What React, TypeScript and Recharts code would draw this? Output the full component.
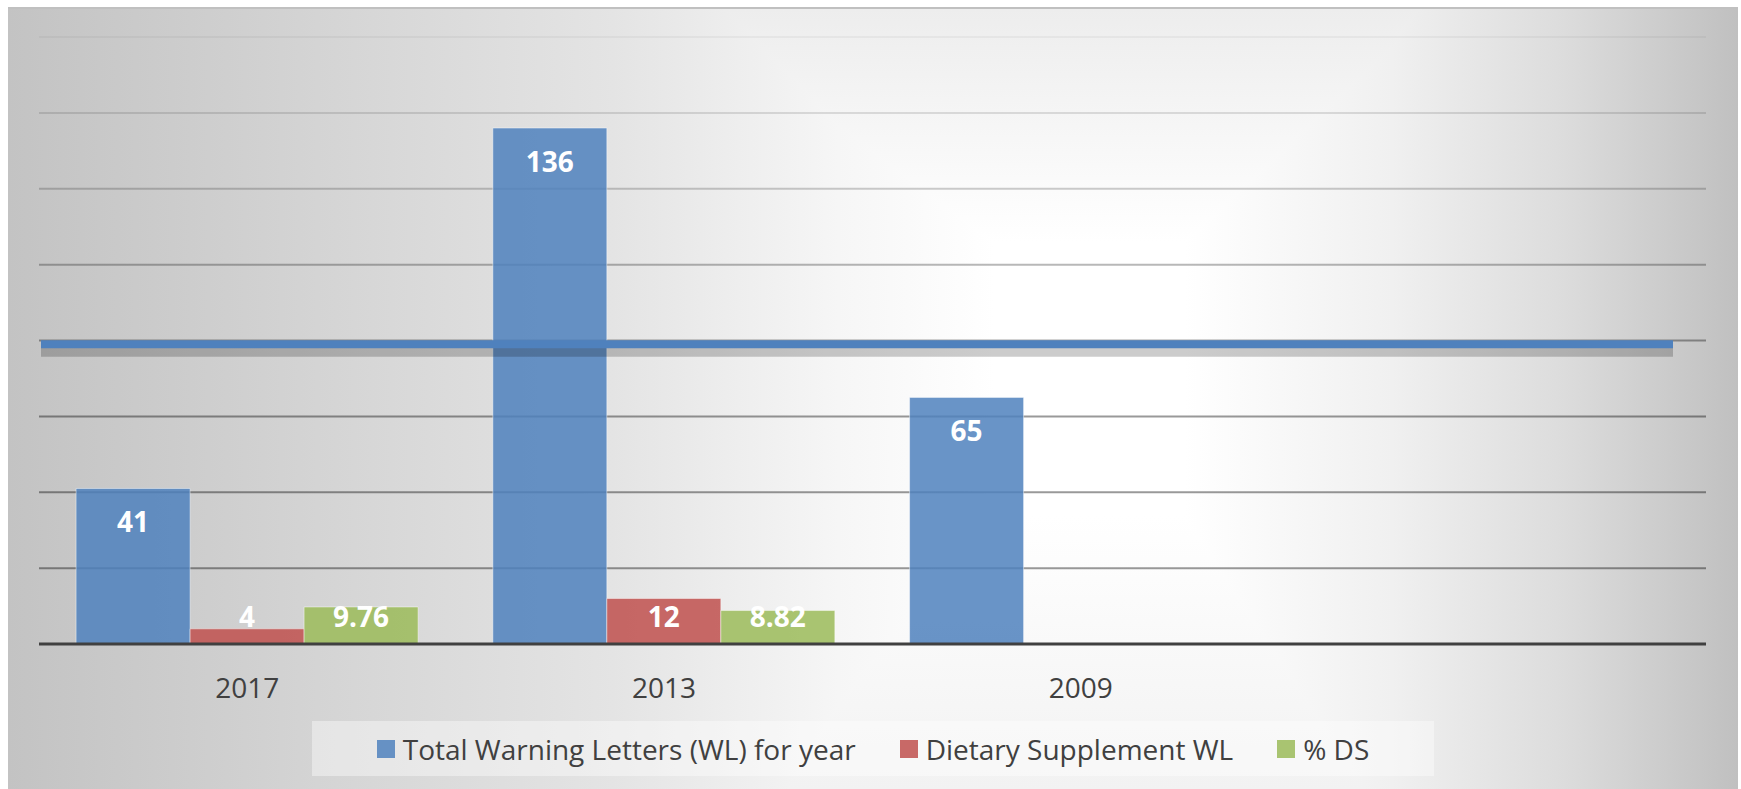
import React from 'react';
import {
  BarChart,
  Bar,
  XAxis,
  YAxis,
  CartesianGrid,
  Legend,
  LabelList,
  ReferenceLine,
} from 'recharts';

const years = ['2017', '2013', '2009', ''];
const totalWL = [41, 136, 65, null];
const dietaryWL = [4, 12, null, null];
const pctDS = [9.76, 8.82, null, null];
const yTicks = [0, 20, 40, 60, 80, 100, 120, 140, 160];
const markerValue = 79;

const seriesNames = ['Total Warning Letters (WL) for year', 'Dietary Supplement WL', '% DS'];
const seriesColors = ['#4f81bd', '#c0504d', '#9bbb59'];

const data = years.map((year, i) => ({
  year,
  total: totalWL[i],
  dietary: dietaryWL[i],
  pct: pctDS[i],
}));

const FONT = '"Open Sans", "Noto Sans", sans-serif';

const BarValue = (props: any) => {
  const { x, y, width, height, value } = props;
  if (value == null) return null;
  const cy = Math.min(y + 33, y + height - 28);
  return (
    <text
      x={x + width / 2}
      y={cy}
      textAnchor="middle"
      dominantBaseline="central"
      fill="#ffffff"
      fontFamily={FONT}
      fontWeight={700}
      fontSize={28}
    >
      {value}
    </text>
  );
};

const gridLine = (p: any) => {
  const op = Math.min(0.4, 0.04 + (p.y1 - 30) / 950);
  return (
    <line
      key={p.key}
      x1={p.x1}
      x2={p.x2}
      y1={p.y1}
      y2={p.y2}
      stroke="#000"
      strokeOpacity={op}
      strokeWidth={2}
    />
  );
};

const markerLine = (p: any) => (
  <g>
    <line
      x1={p.x1 + 2}
      x2={p.x2 - 33}
      y1={p.y1 + 8}
      y2={p.y2 + 8}
      stroke="#000"
      strokeOpacity={0.2}
      strokeWidth={9}
    />
    <line x1={p.x1 + 2} x2={p.x2 - 33} y1={p.y1} y2={p.y2} stroke="#4f81bd" strokeWidth={8} />
  </g>
);

const LegendBox = () => (
  <div
    style={{
      width: '100%',
      height: '100%',
      background: 'rgba(255,255,255,0.4)',
      display: 'flex',
      alignItems: 'center',
      justifyContent: 'center',
      fontFamily: FONT,
      fontSize: 28,
      color: '#404040',
    }}
  >
    {seriesNames.map((name, i) => (
      <div key={name} style={{ display: 'flex', alignItems: 'center', marginRight: i < 2 ? 44 : 0 }}>
        <span
          style={{
            width: 18,
            height: 18,
            background: seriesColors[i],
            opacity: 0.85,
            marginRight: 8,
            display: 'inline-block',
          }}
        />
        <span>{name}</span>
      </div>
    ))}
  </div>
);

export default function App() {
  return (
    <div
      style={{
        position: 'absolute',
        left: 8,
        top: 7,
        width: 1730,
        height: 782,
        borderTop: '2px solid #c0c0c0',
        boxSizing: 'border-box',
        backgroundColor: '#ffffff',
        backgroundImage:
          'linear-gradient(to right, #c3c3c3 0%, #d6d6d6 20%, #e4e4e4 35%, #f6f6f6 48%, #ffffff 57%, #ffffff 68%, #f0f0f0 80%, #dcdcdc 90%, #c0c0c0 100%), linear-gradient(to bottom, #ededed 0%, #ffffff 30%, #ffffff 65%, #f2f2f2 100%)',
        backgroundBlendMode: 'darken',
      }}
    >
      <BarChart
        width={1730}
        height={780}
        data={data}
        margin={{ top: 28, right: 32, left: 31, bottom: 85 }}
        barCategoryGap="8.9%"
        barGap={0}
      >
        <CartesianGrid vertical={false} horizontal={gridLine} />
        <YAxis hide domain={[0, 160]} ticks={yTicks} />
        <XAxis
          dataKey="year"
          height={60}
          tickLine={false}
          tickSize={8}
          tickMargin={26}
          axisLine={{ stroke: '#404040', strokeWidth: 3 }}
          tick={{ fill: '#404040', fontSize: 28, fontFamily: FONT }}
        />
        <ReferenceLine y={markerValue} shape={markerLine} />
        <Bar dataKey="total" name={seriesNames[0]} fill={seriesColors[0]} fillOpacity={0.85} stroke="rgba(255,255,255,0.45)" strokeWidth={1} isAnimationActive={false}>
          <LabelList dataKey="total" content={BarValue} />
        </Bar>
        <Bar dataKey="dietary" name={seriesNames[1]} fill={seriesColors[1]} fillOpacity={0.85} stroke="rgba(255,255,255,0.45)" strokeWidth={1} isAnimationActive={false}>
          <LabelList dataKey="dietary" content={BarValue} />
        </Bar>
        <Bar dataKey="pct" name={seriesNames[2]} fill={seriesColors[2]} fillOpacity={0.85} stroke="rgba(255,255,255,0.45)" strokeWidth={1} isAnimationActive={false}>
          <LabelList dataKey="pct" content={BarValue} />
        </Bar>
        <Legend
          layout="horizontal"
          verticalAlign="middle"
          content={LegendBox}
          wrapperStyle={{ left: 304, top: 712, width: 1122, height: 55 }}
        />
      </BarChart>
    </div>
  );
}
